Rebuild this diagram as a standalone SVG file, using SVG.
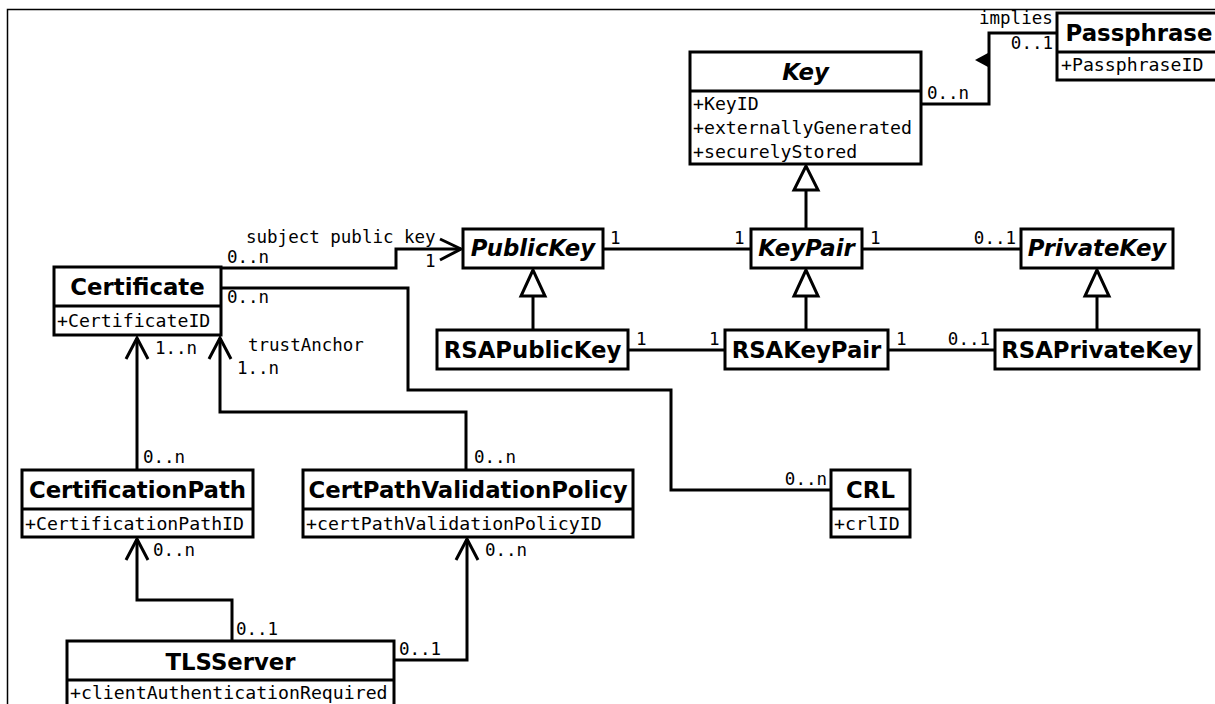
<svg xmlns="http://www.w3.org/2000/svg" width="1215" height="704" viewBox="0 0 1215 704">
<style>
.box{fill:#fff;stroke:#000;stroke-width:3}
.sep{stroke:#000;stroke-width:3}
.t{font-family:"DejaVu Sans",sans-serif;font-weight:bold;font-size:22.8px;text-anchor:middle}
.ti{font-family:"DejaVu Sans",sans-serif;font-weight:bold;font-style:italic;font-size:22.8px;text-anchor:middle}
.a{font-family:"DejaVu Sans Mono",monospace;font-size:18.2px}
.l{font-family:"DejaVu Sans Mono",monospace;font-size:17.5px}
.e{text-anchor:end}
.c{fill:none;stroke:#000;stroke-width:3}
.g{fill:#fff;stroke:#000;stroke-width:3}
</style>
<rect width="1215" height="704" fill="#fff"/>
<path d="M7.5 704V9.5H1215" fill="none" stroke="#000" stroke-width="1.5"/>
<g id="connectors">
  <path class="c" d="M921 104H989V33H1057"/>
  <path d="M975 60L988 53V67Z" fill="#000"/>
  <text class="l" x="979" y="24">implies</text>
  <text class="l e" x="1053" y="49">0..1</text>
  <text class="l" x="927" y="99">0..n</text>
  <path class="c" d="M806 229V190"/>
  <path class="g" d="M806 166L794 190H818Z"/>
  <path class="c" d="M603 249H751"/>
  <text class="l" x="610" y="244">1</text>
  <text class="l" x="734" y="244">1</text>
  <path class="c" d="M862 249H1021"/>
  <text class="l" x="870" y="244">1</text>
  <text class="l e" x="1016" y="244">0..1</text>
  <path class="c" d="M628 350H725"/>
  <text class="l" x="636" y="345">1</text>
  <text class="l" x="709" y="345">1</text>
  <path class="c" d="M888 350H995"/>
  <text class="l" x="896" y="345">1</text>
  <text class="l e" x="990" y="345">0..1</text>
  <path class="c" d="M533 330V296"/>
  <path class="g" d="M533 270L521 296H545Z"/>
  <path class="c" d="M806 330V296"/>
  <path class="g" d="M806 270L794 296H818Z"/>
  <path class="c" d="M1097 330V296"/>
  <path class="g" d="M1097 270L1085 296H1109Z"/>
  <path class="c" d="M221 268H396V249H461"/>
  <path class="c" d="M440 239L461 249L440 260"/>
  <text class="l" x="246" y="243">subject public key</text>
  <text class="l" x="227" y="263">0..n</text>
  <text class="l" x="425" y="267">1</text>
  <path class="c" d="M221 288H408V390H671V490H831"/>
  <text class="l" x="227" y="303">0..n</text>
  <text class="l e" x="827" y="485">0..n</text>
  <path class="c" d="M137 470V338"/>
  <path class="c" d="M126 359L137 338L148 359"/>
  <text class="l" x="155" y="354">1..n</text>
  <text class="l" x="143" y="463">0..n</text>
  <path class="c" d="M466 470V412H220V338"/>
  <path class="c" d="M209 359L220 338L231 359"/>
  <text class="l" x="248" y="351">trustAnchor</text>
  <text class="l" x="237" y="374">1..n</text>
  <text class="l" x="474" y="463">0..n</text>
  <path class="c" d="M232 642V600H137V539"/>
  <path class="c" d="M126 560L137 539L148 560"/>
  <text class="l" x="153" y="556">0..n</text>
  <text class="l" x="236" y="635">0..1</text>
  <path class="c" d="M394 660H467V539"/>
  <path class="c" d="M456 560L467 539L478 560"/>
  <text class="l" x="485" y="556">0..n</text>
  <text class="l" x="399" y="655">0..1</text>
</g>
<g id="Key">
  <rect class="box" x="690" y="52" width="231" height="112"/>
  <line class="sep" x1="690" y1="91" x2="921" y2="91"/>
  <text class="ti" x="805.5" y="80">Key</text>
  <text class="a" x="693" y="110">+KeyID</text>
  <text class="a" x="693" y="134">+externallyGenerated</text>
  <text class="a" x="693" y="158">+securelyStored</text>
</g>
<g id="Passphrase">
  <rect class="box" x="1057" y="13" width="170" height="67"/>
  <line class="sep" x1="1057" y1="52" x2="1227" y2="52"/>
  <text class="t" x="1139" y="41">Passphrase</text>
  <text class="a" x="1061" y="71">+PassphraseID</text>
</g>
<g id="PublicKey">
  <rect class="box" x="463" y="229" width="140" height="39"/>
  <text class="ti" x="533" y="256">PublicKey</text>
</g>
<g id="KeyPair">
  <rect class="box" x="751" y="229" width="111" height="39"/>
  <text class="ti" x="806.5" y="256">KeyPair</text>
</g>
<g id="PrivateKey">
  <rect class="box" x="1021" y="229" width="152" height="39"/>
  <text class="ti" x="1097" y="256">PrivateKey</text>
</g>
<g id="RSAPublicKey">
  <rect class="box" x="437" y="330" width="191" height="39"/>
  <text class="t" x="532.5" y="358">RSAPublicKey</text>
</g>
<g id="RSAKeyPair">
  <rect class="box" x="725" y="330" width="163" height="39"/>
  <text class="t" x="806.5" y="358">RSAKeyPair</text>
</g>
<g id="RSAPrivateKey">
  <rect class="box" x="995" y="330" width="204" height="39"/>
  <text class="t" x="1097" y="358">RSAPrivateKey</text>
</g>
<g id="Certificate">
  <rect class="box" x="54" y="267" width="167" height="68"/>
  <line class="sep" x1="54" y1="306" x2="221" y2="306"/>
  <text class="t" x="137.5" y="295">Certificate</text>
  <text class="a" x="57" y="327">+CertificateID</text>
</g>
<g id="CertificationPath">
  <rect class="box" x="22" y="470" width="231" height="67"/>
  <line class="sep" x1="22" y1="509" x2="253" y2="509"/>
  <text class="t" x="137.5" y="498">CertificationPath</text>
  <text class="a" x="25" y="530">+CertificationPathID</text>
</g>
<g id="CertPathValidationPolicy">
  <rect class="box" x="303" y="470" width="330" height="67"/>
  <line class="sep" x1="303" y1="509" x2="633" y2="509"/>
  <text class="t" x="468" y="498">CertPathValidationPolicy</text>
  <text class="a" x="306" y="530">+certPathValidationPolicyID</text>
</g>
<g id="CRL">
  <rect class="box" x="831" y="470" width="79" height="67"/>
  <line class="sep" x1="831" y1="509" x2="910" y2="509"/>
  <text class="t" x="870.5" y="498">CRL</text>
  <text class="a" x="834" y="530">+crlID</text>
</g>
<g id="TLSServer">
  <rect class="box" x="67" y="641" width="327" height="70"/>
  <line class="sep" x1="67" y1="680" x2="394" y2="680"/>
  <text class="t" x="230.5" y="670">TLSServer</text>
  <text class="a" x="70" y="699">+clientAuthenticationRequired</text>
</g>
</svg>
